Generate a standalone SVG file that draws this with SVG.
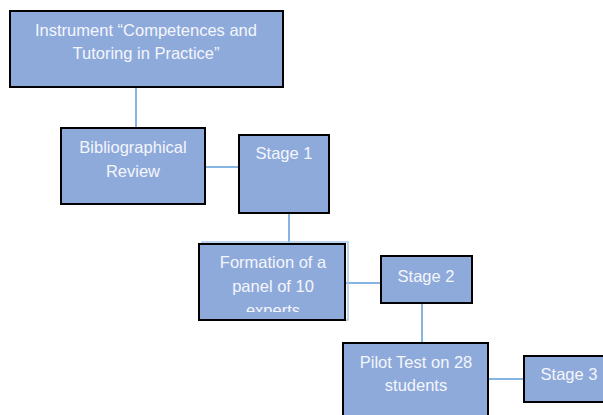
<svg xmlns="http://www.w3.org/2000/svg" width="603" height="415" viewBox="0 0 603 415">
<defs>
<style>
.box{fill:#8eaadb;stroke:#000;stroke-width:2}
.t{font-family:"Liberation Sans",Arial,sans-serif;font-size:16.5px;fill:#f4f6fb;text-anchor:middle}
.c{stroke:#86b5e3;stroke-width:2;fill:none}
</style>
<clipPath id="clipF"><rect x="200" y="245" width="144" height="67"/></clipPath>
</defs>
<rect width="603" height="415" fill="#fff"/>
<g id="connectors">
<line class="c" x1="136" y1="87" x2="136" y2="128"/>
<line class="c" x1="205" y1="167" x2="239" y2="167"/>
<line class="c" x1="289" y1="213" x2="289" y2="244"/>
<line class="c" x1="345" y1="283" x2="381" y2="283"/>
<line class="c" x1="422" y1="303" x2="422" y2="343"/>
<line class="c" x1="488" y1="379" x2="524" y2="379"/>
</g>
<g id="instrument">
<rect class="box" x="10" y="11" width="273" height="76"/>
<text class="t" x="146" y="36">Instrument “Competences and</text>
<text class="t" x="146" y="59">Tutoring in Practice”</text>
</g>
<g id="bibliographical">
<rect class="box" x="61" y="128" width="144" height="76"/>
<text class="t" x="133" y="153">Bibliographical</text>
<text class="t" x="133" y="177">Review</text>
</g>
<g id="stage1">
<rect class="box" x="239" y="135" width="90" height="78"/>
<text class="t" x="284" y="159">Stage 1</text>
</g>
<g id="formation">
<rect x="202" y="242" width="146" height="78" fill="none" stroke="#a9c8e8" stroke-width="1.5"/>
<rect class="box" x="199" y="244" width="146" height="76"/>
<g clip-path="url(#clipF)">
<text class="t" x="273" y="268">Formation of a</text>
<text class="t" x="273" y="292">panel of 10</text>
<text class="t" x="273" y="316">experts</text>
</g>
</g>
<g id="stage2">
<rect class="box" x="381" y="256" width="91" height="47"/>
<text class="t" x="426" y="282">Stage 2</text>
</g>
<g id="pilot">
<rect class="box" x="343" y="343" width="145" height="80"/>
<text class="t" x="416" y="368">Pilot Test on 28</text>
<text class="t" x="416" y="391">students</text>
</g>
<g id="stage3">
<rect class="box" x="524" y="356" width="92" height="46"/>
<text class="t" x="569" y="380">Stage 3</text>
</g>
</svg>
